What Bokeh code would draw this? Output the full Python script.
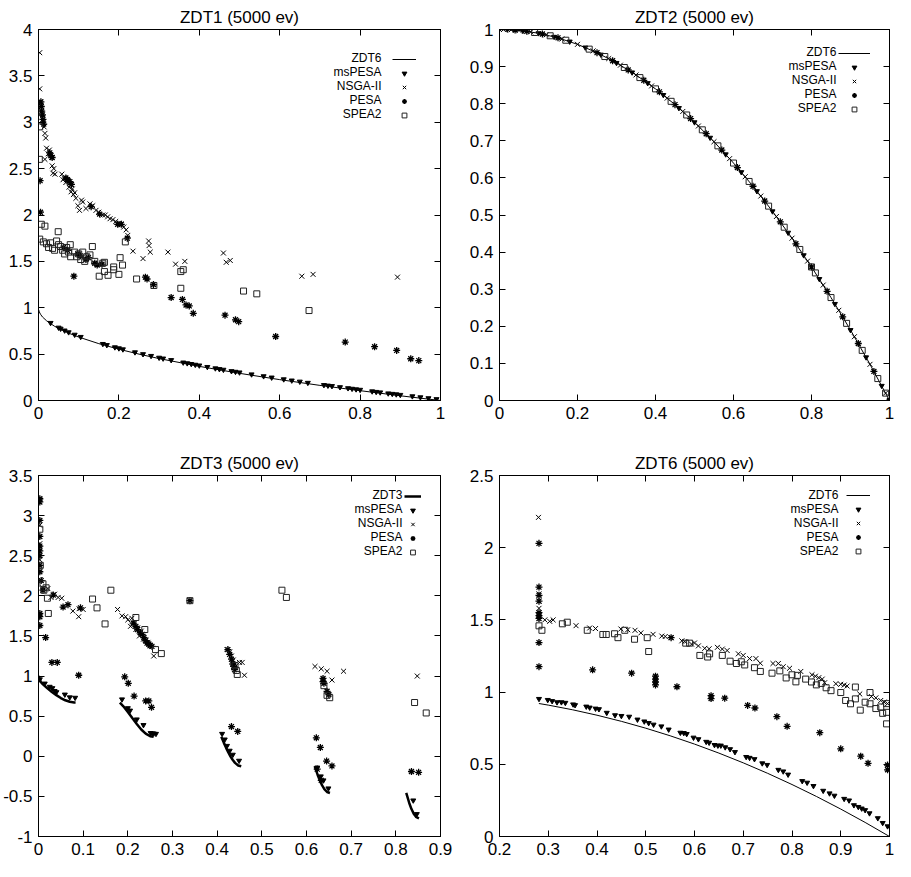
import numpy as np
from bokeh.plotting import figure
from bokeh.layouts import gridplot
from bokeh.models import (Range1d, FixedTicker, LinearAxis, CustomJSTickFormatter,
                          Legend, LegendItem, Label)
from bokeh.embed import file_html
from bokeh.resources import INLINE

FONT = "Liberation Sans"

# ---------------- tick values ----------------
z1_xticks = [0, 0.2, 0.4, 0.6, 0.8, 1]
z1_yticks = [0, 0.5, 1, 1.5, 2, 2.5, 3, 3.5, 4]
z2_xticks = [0, 0.2, 0.4, 0.6, 0.8, 1]
z2_yticks = [0, 0.1, 0.2, 0.3, 0.4, 0.5, 0.6, 0.7, 0.8, 0.9, 1]
z3_xticks = [0, 0.1, 0.2, 0.3, 0.4, 0.5, 0.6, 0.7, 0.8, 0.9]
z3_yticks = [-1, -0.5, 0, 0.5, 1, 1.5, 2, 2.5, 3, 3.5]
z6_xticks = [0.2, 0.3, 0.4, 0.5, 0.6, 0.7, 0.8, 0.9, 1]
z6_yticks = [0, 0.5, 1, 1.5, 2, 2.5]

titles = ["ZDT1 (5000 ev)", "ZDT2 (5000 ev)", "ZDT3 (5000 ev)", "ZDT6 (5000 ev)"]
series_names = ["msPESA", "NSGA-II", "PESA", "SPEA2"]
front_names = ["ZDT6", "ZDT6", "ZDT3", "ZDT6"]

# ---------------- ZDT1 ----------------
z1_front = [(0.0005, 0.978), (0.002, 0.955), (0.005, 0.93), (0.01, 0.9), (0.02, 0.86),
            (0.04, 0.8), (0.07, 0.735), (0.1, 0.684), (0.15, 0.613), (0.2, 0.553),
            (0.25, 0.5), (0.3, 0.452), (0.4, 0.368), (0.5, 0.293), (0.6, 0.225),
            (0.7, 0.163), (0.8, 0.106), (0.9, 0.051), (0.95, 0.025), (1.0, 0.0)]
z1_mspesa = [(0.03, 0.837), (0.05, 0.786), (0.055, 0.775), (0.065, 0.755), (0.075, 0.736),
             (0.09, 0.71), (0.105, 0.686), (0.16, 0.61), (0.17, 0.598), (0.19, 0.574),
             (0.2, 0.563), (0.21, 0.552), (0.24, 0.52), (0.26, 0.5), (0.28, 0.481),
             (0.3, 0.462), (0.31, 0.453), (0.33, 0.436), (0.36, 0.41), (0.37, 0.402),
             (0.38, 0.394), (0.39, 0.386), (0.4, 0.378), (0.42, 0.362), (0.44, 0.347),
             (0.45, 0.339), (0.46, 0.332), (0.48, 0.317), (0.49, 0.31), (0.5, 0.303),
             (0.53, 0.282), (0.56, 0.262), (0.58, 0.248), (0.61, 0.229), (0.63, 0.216),
             (0.65, 0.204), (0.67, 0.191), (0.71, 0.167), (0.72, 0.161), (0.73, 0.156),
             (0.75, 0.144), (0.77, 0.133), (0.78, 0.127), (0.79, 0.121), (0.8, 0.116),
             (0.83, 0.099), (0.84, 0.093), (0.85, 0.088), (0.87, 0.077), (0.88, 0.072),
             (0.89, 0.067), (0.9, 0.061), (0.93, 0.046), (0.95, 0.035), (0.97, 0.025),
             (0.99, 0.015)]
z1_nsga = [(0.003, 3.75), (0.003, 3.36), (0.004, 3.22), (0.006, 3.18), (0.008, 3.1),
           (0.01, 3.05), (0.012, 3.0), (0.014, 2.95), (0.016, 2.88), (0.018, 2.83),
           (0.016, 2.6), (0.02, 2.72), (0.024, 2.66), (0.027, 2.7), (0.03, 2.65),
           (0.033, 2.62), (0.034, 2.53), (0.036, 2.45), (0.038, 2.5), (0.041, 2.44),
           (0.058, 2.44), (0.061, 2.38), (0.064, 2.4), (0.068, 2.35), (0.07, 2.38),
           (0.073, 2.37), (0.076, 2.3), (0.079, 2.33), (0.081, 2.25), (0.084, 2.28),
           (0.087, 2.22), (0.09, 2.24), (0.093, 2.18), (0.098, 2.1), (0.102, 2.05),
           (0.107, 2.16), (0.11, 2.14), (0.118, 2.07), (0.128, 2.12), (0.135, 2.1),
           (0.143, 2.05), (0.15, 2.03), (0.16, 2.0), (0.166, 2.0), (0.172, 1.98),
           (0.178, 1.96), (0.185, 1.95), (0.192, 1.93), (0.2, 1.91), (0.205, 1.9),
           (0.212, 1.87), (0.218, 1.84), (0.222, 1.78), (0.235, 1.61), (0.26, 1.53),
           (0.274, 1.72), (0.275, 1.67), (0.278, 1.6), (0.322, 1.6), (0.341, 1.47),
           (0.364, 1.5), (0.46, 1.59), (0.467, 1.49), (0.477, 1.51), (0.655, 1.34),
           (0.683, 1.36), (0.893, 1.33)]
z1_pesa = [(0.004, 2.37), (0.005, 2.03), (0.006, 3.22), (0.007, 3.17), (0.008, 3.12),
           (0.01, 3.08), (0.011, 3.03), (0.013, 2.98), (0.028, 2.67), (0.031, 2.64),
           (0.034, 2.62), (0.068, 2.4), (0.072, 2.38), (0.078, 2.36), (0.082, 2.33),
           (0.131, 2.09), (0.152, 2.01), (0.197, 1.9), (0.206, 1.9), (0.221, 1.75),
           (0.062, 1.65), (0.072, 1.62), (0.098, 1.58), (0.104, 1.56), (0.118, 1.52),
           (0.124, 1.54), (0.14, 1.48), (0.146, 1.46), (0.158, 1.47), (0.088, 1.34),
           (0.266, 1.33), (0.27, 1.31), (0.286, 1.25), (0.33, 1.11), (0.358, 1.09),
           (0.367, 1.03), (0.375, 1.02), (0.385, 0.94), (0.464, 0.92), (0.49, 0.87),
           (0.498, 0.85), (0.59, 0.69), (0.763, 0.63), (0.836, 0.58), (0.891, 0.54),
           (0.926, 0.45), (0.946, 0.43)]
z1_spea = [(0.002, 2.6), (0.003, 2.95), (0.003, 1.74), (0.007, 1.9), (0.016, 1.88),
           (0.012, 1.71), (0.02, 1.69), (0.025, 1.65), (0.03, 1.7), (0.035, 1.64),
           (0.04, 1.62), (0.045, 1.72), (0.049, 1.82), (0.05, 1.68), (0.055, 1.66),
           (0.06, 1.62), (0.065, 1.58), (0.07, 1.65), (0.075, 1.6), (0.079, 1.68),
           (0.08, 1.55), (0.09, 1.6), (0.095, 1.55), (0.1, 1.58), (0.105, 1.52),
           (0.11, 1.6), (0.115, 1.5), (0.12, 1.55), (0.128, 1.57), (0.134, 1.66),
           (0.14, 1.5), (0.151, 1.34), (0.16, 1.48), (0.164, 1.39), (0.164, 1.49),
           (0.173, 1.35), (0.187, 1.41), (0.187, 1.44), (0.2, 1.36), (0.203, 1.54),
           (0.209, 1.46), (0.216, 1.71), (0.244, 1.31), (0.287, 1.24), (0.354, 1.39),
           (0.36, 1.41), (0.354, 1.21), (0.51, 1.18), (0.543, 1.15), (0.673, 0.97)]

# ---------------- ZDT2 ----------------
z2_front = [(0.0, 1.0), (0.05, 0.9975), (0.1, 0.99), (0.15, 0.9775), (0.2, 0.96),
            (0.25, 0.9375), (0.3, 0.91), (0.35, 0.8775), (0.4, 0.84), (0.45, 0.7975),
            (0.5, 0.75), (0.55, 0.6975), (0.6, 0.64), (0.65, 0.5775), (0.7, 0.51),
            (0.75, 0.4375), (0.8, 0.36), (0.85, 0.2775), (0.9, 0.19), (0.95, 0.0975),
            (1.0, 0.0)]
z2_mspesa = [(0.02, 1.0), (0.06, 0.9964), (0.1, 0.99), (0.14, 0.9804), (0.18, 0.9676),
             (0.22, 0.9516), (0.26, 0.9324), (0.3, 0.91), (0.34, 0.8844), (0.38, 0.8556),
             (0.42, 0.8236), (0.46, 0.7884), (0.5, 0.75), (0.54, 0.7084), (0.58, 0.6636),
             (0.62, 0.6156), (0.66, 0.5644), (0.7, 0.51), (0.74, 0.4524), (0.78, 0.3916),
             (0.82, 0.3276), (0.86, 0.2604), (0.9, 0.19), (0.94, 0.1164), (0.98, 0.0396),
             (1.0, 0.0)]
z2_nsga = [(0.0, 1.0), (0.01, 0.9999), (0.03, 0.9991), (0.05, 0.9975), (0.08, 0.9936),
           (0.12, 0.9856), (0.16, 0.9744), (0.2, 0.96), (0.24, 0.9424), (0.28, 0.9216),
           (0.31, 0.9039), (0.35, 0.8775), (0.39, 0.8479), (0.43, 0.8151), (0.47, 0.7791),
           (0.51, 0.7399), (0.55, 0.6975), (0.59, 0.6519), (0.63, 0.6031), (0.67, 0.5511),
           (0.71, 0.4959), (0.75, 0.4375), (0.79, 0.3759), (0.83, 0.3111), (0.87, 0.2431),
           (0.91, 0.1719), (0.95, 0.0975), (0.99, 0.0199)]
z2_pesa = [(0.04, 0.9984), (0.07, 0.9951), (0.11, 0.9879), (0.15, 0.9775), (0.25, 0.9375),
           (0.29, 0.9159), (0.33, 0.8911), (0.37, 0.8631), (0.41, 0.8319), (0.45, 0.7975),
           (0.49, 0.7599), (0.53, 0.7191), (0.57, 0.6751), (0.61, 0.6279), (0.65, 0.5775),
           (0.68, 0.5376), (0.72, 0.4816), (0.76, 0.4224), (0.8, 0.36), (0.84, 0.2944),
           (0.88, 0.2256), (0.92, 0.1536), (0.96, 0.0784), (1.0, 0.0)]
z2_spea = [(0.09, 0.9919), (0.13, 0.9831), (0.17, 0.9711), (0.23, 0.9471), (0.27, 0.9271),
           (0.32, 0.8976), (0.36, 0.8704), (0.4, 0.84), (0.44, 0.8064), (0.48, 0.7696),
           (0.52, 0.7296), (0.56, 0.6864), (0.6, 0.64), (0.64, 0.5904), (0.69, 0.5239),
           (0.73, 0.4671), (0.77, 0.4071), (0.8, 0.36), (0.81, 0.3439), (0.85, 0.2775),
           (0.89, 0.2079), (0.93, 0.1351), (0.97, 0.0591), (0.99, 0.0199)]

# ---------------- ZDT3 ----------------
z3_front_segments = [
    [(0.0, 1.0), (0.005, 0.928), (0.01, 0.897), (0.02, 0.847), (0.03, 0.802),
     (0.04, 0.762), (0.05, 0.726), (0.06, 0.698), (0.07, 0.679), (0.08, 0.67), (0.083, 0.67)],
    [(0.1822, 0.669), (0.19, 0.623), (0.2, 0.553), (0.21, 0.477), (0.22, 0.402),
     (0.23, 0.334), (0.24, 0.282), (0.25, 0.25), (0.2578, 0.242)],
    [(0.4093, 0.242), (0.415, 0.167), (0.42, 0.105), (0.425, 0.048), (0.43, -0.004),
     (0.435, -0.047), (0.44, -0.082), (0.447, -0.114), (0.4539, -0.124)],
    [(0.6183, -0.123), (0.625, -0.233), (0.63, -0.303), (0.635, -0.363), (0.64, -0.409),
     (0.646, -0.445), (0.6525, -0.458)],
    [(0.8233, -0.457), (0.83, -0.582), (0.835, -0.658), (0.84, -0.715), (0.846, -0.759),
     (0.8518, -0.773)],
]
z3_mspesa = [(0.003, 0.96), (0.014, 0.907), (0.025, 0.867), (0.031, 0.85), (0.036, 0.814),
             (0.04, 0.8), (0.059, 0.77), (0.07, 0.735), (0.082, 0.73), (0.187, 0.71),
             (0.2, 0.6), (0.205, 0.57), (0.22, 0.46), (0.235, 0.39), (0.251, 0.29),
             (0.255, 0.285), (0.258, 0.285), (0.263, 0.28), (0.411, 0.28), (0.417, 0.21),
             (0.422, 0.13), (0.428, 0.07), (0.435, 0.02), (0.449, -0.055), (0.624, -0.14),
             (0.632, -0.25), (0.638, -0.3), (0.649, -0.4), (0.839, -0.55), (0.847, -0.72)]
z3_nsga = [(0.003, 3.2), (0.003, 2.88), (0.004, 2.2), (0.003, 2.45), (0.003, 2.65),
           (0.01, 2.1), (0.021, 2.09), (0.028, 1.98), (0.036, 2.02), (0.044, 1.98),
           (0.052, 1.97), (0.077, 1.81), (0.09, 1.74), (0.091, 1.84), (0.1, 1.83),
           (0.177, 1.83), (0.187, 1.75), (0.195, 1.74), (0.2, 1.7), (0.206, 1.62),
           (0.209, 1.72), (0.215, 1.66), (0.218, 1.58), (0.222, 1.6), (0.226, 1.5),
           (0.23, 1.56), (0.235, 1.46), (0.24, 1.45), (0.245, 1.42), (0.25, 1.38),
           (0.258, 1.25), (0.422, 1.33), (0.428, 1.3), (0.432, 1.25), (0.436, 1.2),
           (0.44, 1.15), (0.45, 1.17), (0.456, 1.17), (0.461, 1.01), (0.619, 1.12),
           (0.633, 1.09), (0.646, 1.06), (0.657, 0.95), (0.683, 1.06), (0.848, 1.0)]
z3_pesa = [(0.003, 3.21), (0.003, 3.17), (0.003, 2.94), (0.003, 2.74), (0.003, 2.62),
           (0.003, 2.56), (0.003, 2.5), (0.003, 2.38), (0.003, 2.3), (0.003, 1.78),
           (0.003, 1.74), (0.003, 1.63), (0.006, 2.19), (0.01, 2.07), (0.033, 2.01),
           (0.055, 1.86), (0.066, 1.89), (0.094, 1.85), (0.016, 1.48), (0.03, 1.17),
           (0.042, 1.17), (0.09, 1.01), (0.212, 1.66), (0.218, 1.62), (0.222, 1.58),
           (0.228, 1.54), (0.232, 1.52), (0.236, 1.48), (0.24, 1.44), (0.243, 1.41),
           (0.247, 1.4), (0.25, 1.38), (0.254, 1.37), (0.193, 0.99), (0.201, 0.91),
           (0.214, 0.75), (0.24, 0.69), (0.247, 0.69), (0.253, 0.61), (0.339, 1.94),
           (0.424, 1.33), (0.428, 1.27), (0.432, 1.21), (0.435, 1.15), (0.437, 1.12),
           (0.439, 1.08), (0.432, 0.37), (0.446, 0.31), (0.637, 0.97), (0.637, 0.93),
           (0.639, 0.91), (0.646, 0.81), (0.65, 0.77), (0.622, 0.23), (0.631, 0.11),
           (0.645, -0.06), (0.657, -0.12), (0.624, -0.16), (0.633, -0.3), (0.835, -0.19),
           (0.851, -0.2)]
z3_spea = [(0.003, 2.83), (0.004, 2.38), (0.01, 2.15), (0.012, 2.07), (0.017, 2.1),
           (0.02, 1.97), (0.022, 1.78), (0.121, 1.96), (0.131, 1.85), (0.149, 1.65),
           (0.162, 2.07), (0.218, 1.73), (0.238, 1.58), (0.262, 1.33), (0.275, 1.28),
           (0.339, 1.94), (0.545, 2.07), (0.555, 1.98), (0.443, 1.07), (0.44, 1.13),
           (0.445, 1.02), (0.639, 0.88), (0.646, 0.76), (0.652, 0.73), (0.842, 0.67),
           (0.868, 0.54)]

# ---------------- ZDT6 ----------------
z6_front = [(0.2808, 0.921), (0.3, 0.91), (0.35, 0.8775), (0.4, 0.84), (0.45, 0.7975),
            (0.5, 0.75), (0.55, 0.6975), (0.6, 0.64), (0.65, 0.5775), (0.7, 0.51),
            (0.75, 0.4375), (0.8, 0.36), (0.85, 0.2775), (0.9, 0.19), (0.95, 0.0975),
            (1.0, 0.0)]
z6_mspesa = [(0.281, 0.953), (0.299, 0.946), (0.308, 0.938), (0.318, 0.93), (0.327, 0.93),
             (0.335, 0.926), (0.351, 0.915), (0.355, 0.91), (0.378, 0.9), (0.385, 0.893),
             (0.397, 0.886), (0.404, 0.882), (0.42, 0.857), (0.437, 0.84), (0.45, 0.835),
             (0.466, 0.83), (0.483, 0.81), (0.497, 0.797), (0.506, 0.786), (0.516, 0.775),
             (0.532, 0.763), (0.547, 0.741), (0.571, 0.719), (0.578, 0.717), (0.584, 0.71),
             (0.598, 0.685), (0.608, 0.674), (0.624, 0.656), (0.63, 0.65), (0.641, 0.634),
             (0.648, 0.63), (0.654, 0.63), (0.663, 0.618), (0.673, 0.605), (0.683, 0.585),
             (0.706, 0.551), (0.713, 0.545), (0.723, 0.536), (0.739, 0.507), (0.749, 0.496),
             (0.772, 0.462), (0.782, 0.451), (0.792, 0.429), (0.821, 0.384), (0.831, 0.373),
             (0.844, 0.35), (0.864, 0.317), (0.877, 0.299), (0.887, 0.283), (0.907, 0.261),
             (0.917, 0.25), (0.927, 0.217), (0.936, 0.205), (0.943, 0.194), (0.95, 0.183),
             (0.959, 0.161), (0.976, 0.127), (0.986, 0.094), (0.996, 0.071)]
z6_nsga = [(0.28, 2.21), (0.281, 1.68), (0.281, 1.63), (0.281, 1.58), (0.281, 1.53),
           (0.293, 1.5), (0.303, 1.49), (0.31, 1.5), (0.357, 1.46), (0.385, 1.444),
           (0.397, 1.44), (0.449, 1.437), (0.463, 1.432), (0.478, 1.428), (0.49, 1.41),
           (0.515, 1.4), (0.533, 1.388), (0.54, 1.385), (0.552, 1.377), (0.574, 1.355),
           (0.58, 1.35), (0.594, 1.332), (0.6, 1.34), (0.608, 1.32), (0.621, 1.303),
           (0.63, 1.3), (0.647, 1.31), (0.657, 1.298), (0.667, 1.288), (0.69, 1.265),
           (0.7, 1.254), (0.713, 1.232), (0.726, 1.232), (0.735, 1.2), (0.761, 1.198),
           (0.772, 1.198), (0.782, 1.176), (0.795, 1.165), (0.818, 1.143), (0.841, 1.12),
           (0.848, 1.11), (0.855, 1.1), (0.862, 1.09), (0.867, 1.065), (0.89, 1.058),
           (0.9, 1.054), (0.907, 1.049), (0.913, 1.042), (0.939, 0.987), (0.963, 0.969),
           (0.972, 0.96), (0.982, 0.942), (0.989, 0.931), (0.996, 0.92)]
z6_pesa = [(0.281, 2.03), (0.281, 1.727), (0.281, 1.67), (0.281, 1.63), (0.281, 1.55),
           (0.281, 1.53), (0.281, 1.51), (0.281, 1.343), (0.281, 1.176), (0.391, 1.154),
           (0.471, 1.131), (0.52, 1.11), (0.52, 1.09), (0.52, 1.07), (0.52, 1.05),
           (0.564, 1.037), (0.552, 1.377), (0.634, 0.975), (0.634, 0.955), (0.662, 0.958),
           (0.709, 0.908), (0.724, 0.89), (0.769, 0.83), (0.79, 0.763), (0.857, 0.719),
           (0.9, 0.607), (0.941, 0.556), (0.956, 0.507), (0.996, 0.495), (0.996, 0.462)]
z6_spea = [(0.281, 1.459), (0.287, 1.428), (0.329, 1.473), (0.339, 1.484), (0.38, 1.428),
           (0.412, 1.399), (0.419, 1.399), (0.436, 1.404), (0.443, 1.377), (0.457, 1.428),
           (0.477, 1.366), (0.503, 1.377), (0.506, 1.281), (0.582, 1.339), (0.59, 1.339),
           (0.611, 1.254), (0.627, 1.243), (0.631, 1.265), (0.657, 1.254), (0.673, 1.214),
           (0.686, 1.198), (0.696, 1.21), (0.703, 1.188), (0.723, 1.169), (0.735, 1.143),
           (0.759, 1.131), (0.775, 1.147), (0.788, 1.098), (0.8, 1.12), (0.808, 1.071),
           (0.811, 1.116), (0.828, 1.09), (0.84, 1.07), (0.85, 1.05), (0.86, 1.06),
           (0.87, 1.03), (0.88, 1.01), (0.9, 0.997), (0.91, 0.942), (0.92, 0.919),
           (0.93, 1.035), (0.93, 0.953), (0.94, 0.875), (0.95, 0.93), (0.96, 0.997),
           (0.96, 0.919), (0.972, 0.886), (0.982, 0.897), (0.986, 0.853), (0.994, 0.92),
           (0.994, 0.86), (0.994, 0.78)]


def xs(pairs):
    return [a for a, _ in pairs]


def ys(pairs):
    return [b for _, b in pairs]


def style_axis(ax, ticks, labels=True):
    ax.ticker = FixedTicker(ticks=ticks, minor_ticks=[])
    ax.major_tick_in = 6
    ax.major_tick_out = 0
    ax.minor_tick_in = 0
    ax.minor_tick_out = 0
    ax.axis_line_color = "black"
    ax.major_tick_line_color = "black"
    if labels:
        ax.formatter = CustomJSTickFormatter(code="return String(Math.round(tick*1000)/1000);")
        ax.major_label_text_font = FONT
        ax.major_label_text_font_size = "17px"
        ax.major_label_text_color = "black"
    else:
        ax.formatter = CustomJSTickFormatter(code="return '';")
        ax.major_label_text_font_size = "0px"
        ax.major_label_standoff = 0


ROW = 14
GLYPH_H = 12


def panel(title, xr, yr, xticks, yticks, w, h, bl, br, bt, bb,
          front, algos, front_name, line_w, leg):
    p = figure(width=w, height=h, x_range=Range1d(*xr), y_range=Range1d(*yr),
               title=title, output_backend="svg", toolbar_location=None, tools="",
               min_border_left=bl, min_border_right=br, min_border_top=bt,
               min_border_bottom=bb)
    p.title.align = "center"
    p.title.text_font = FONT
    p.title.text_font_size = "17px"
    p.title.text_font_style = "normal"
    p.title.text_color = "black"
    p.title.standoff = 6
    p.background_fill_color = "white"
    p.border_fill_color = "white"
    p.outline_line_color = "black"
    p.outline_line_width = 1
    p.xgrid.visible = False
    p.ygrid.visible = False
    style_axis(p.xaxis[0], xticks)
    style_axis(p.yaxis[0], yticks)
    p.xaxis[0].major_label_standoff = 6
    p.yaxis[0].major_label_standoff = 6
    top = LinearAxis()
    right = LinearAxis()
    style_axis(top, xticks, labels=False)
    style_axis(right, yticks, labels=False)
    p.add_layout(top, "above")
    p.add_layout(right, "right")

    if isinstance(front[0], list):
        r_front = p.multi_line([xs(s) for s in front], [ys(s) for s in front],
                               line_color="black", line_width=line_w)
    else:
        r_front = p.line(xs(front), ys(front), line_color="black", line_width=line_w)
    ms, ns, pe, sp = algos
    r_ms = p.scatter(xs(ms), ys(ms), marker="inverted_triangle", size=5,
                     fill_color="black", line_color="black")
    r_ns = p.scatter(xs(ns), ys(ns), marker="x", size=7, line_color="black",
                     line_width=1)
    r_pe = p.scatter(xs(pe), ys(pe), marker="asterisk", size=7, line_color="black",
                     line_width=1.3)
    r_sp = p.scatter(xs(sp), ys(sp), marker="square", size=6, fill_color=None,
                     line_color="#222222", line_width=1)

    # gnuplot-style key: right-aligned text, sample to its right
    frame_h = h - bt - bb
    gx, first, gw, text_right = leg
    vy = frame_h - (first - ROW / 2 + 1) - 5 * ROW
    renderers = [r_front, r_ms, r_ns, r_pe, r_sp]
    items = [LegendItem(label=" ", renderers=[r]) for r in renderers]
    legend = Legend(items=items, location=(gx, vy), orientation="vertical",
                    padding=0, margin=0, spacing=0, glyph_width=gw, glyph_height=GLYPH_H,
                    label_height=ROW, label_width=0, label_standoff=0,
                    label_text_font_size="6px",
                    background_fill_alpha=0, border_line_alpha=0)
    p.add_layout(legend)
    names = [front_name] + series_names
    for i, n in enumerate(names):
        p.add_layout(Label(x=text_right, y=frame_h - (first + ROW * i),
                           x_units="screen", y_units="screen", text=n,
                           text_align="right", text_baseline="middle",
                           text_font=FONT, text_font_size="12px", text_color="black"))
    return p


# widths/heights and borders of the four panels
p1 = panel(titles[0], (0, 1), (0, 4), z1_xticks, z1_yticks, 461, 430, 36, 21, 29, 30,
           z1_front, (z1_mspesa, z1_nsga, z1_pesa, z1_spea), front_names[0], 1,
           (354, 28.6, 24, 343))
p2 = panel(titles[1], (0, 1), (0, 1), z2_xticks, z2_yticks, 434, 430, 38, 6, 29, 30,
           z2_front, (z2_mspesa, z2_nsga, z2_pesa, z2_spea), front_names[1], 1,
           (339, 22.6, 32, 337))
p3 = panel(titles[2], (0, 0.9), (-1, 3.5), z3_xticks, z3_yticks, 461, 431, 36, 21, 45, 25,
           z3_front_segments, (z3_mspesa, z3_nsga, z3_pesa, z3_spea), front_names[2], 2.5,
           (366, 19.8, 17, 364))
p4 = panel(titles[3], (0.2, 1), (0, 2.5), z6_xticks, z6_yticks, 434, 431, 38, 6, 45, 25,
           z6_front, (z6_mspesa, z6_nsga, z6_pesa, z6_spea), front_names[3], 1,
           (347, 19.4, 24, 339))

grid = gridplot([[p1, p2], [p3, p4]], toolbar_location=None)

open("out.html", "w").write(file_html(grid, INLINE))
